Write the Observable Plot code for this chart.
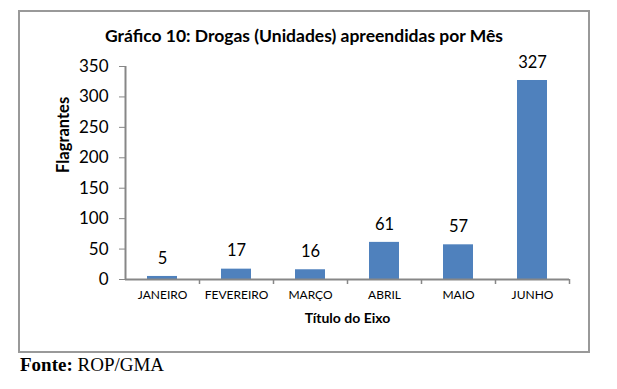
<!DOCTYPE html>
<html><head><meta charset="utf-8">
<script src="https://cdn.jsdelivr.net/npm/d3@7"></script>
<script src="https://cdn.jsdelivr.net/npm/@observablehq/plot@0.6"></script>
<style>
body{margin:0;background:#fff;width:617px;height:389px;position:relative;overflow:hidden;font-family:Lato,sans-serif}
#box{position:absolute;left:18px;top:10px;width:568px;height:339px;border:2px solid #999;}
#title{position:absolute;left:18px;width:572px;top:25px;text-align:center;font:bold 17.5px Lato,sans-serif;line-height:22px;color:#000}
#chart{position:absolute;left:0;top:50px}
#fonte{position:absolute;left:20px;top:354px;font:19px "Liberation Serif",serif;line-height:22px;color:#000}
</style></head>
<body>
<div id="box"></div>
<div id="title"></div>
<div id="chart"></div>
<div id="fonte"></div>
<script>
const titleText = "Gráfico 10: Drogas (Unidades) apreendidas por Mês";
const months = ["JANEIRO","FEVEREIRO","MARÇO","ABRIL","MAIO","JUNHO"];
const values = [5,17,16,61,57,327];
const yTicks = [0,50,100,150,200,250,300,350];
const yLabel = "Flagrantes";
const xLabel = "Título do Eixo";
const sourceLabel = "Fonte:";
const sourceText = " ROP/GMA";

document.getElementById("title").textContent = titleText;
const f = document.getElementById("fonte");
const b = document.createElement("b"); b.textContent = sourceLabel; f.appendChild(b);
f.appendChild(document.createTextNode(sourceText));

const data = months.map((m,i)=>({month:m, value:values[i]}));
const W=617, H=300, ML=125, MR=48;
const step = (W-ML-MR)/months.length;
const axisGray = "#878787";
const plot = Plot.plot({
  width:W, height:H, marginLeft:ML, marginRight:MR, marginTop:16, marginBottom:71,
  style:{fontFamily:"Lato, sans-serif", color:"#000", background:"transparent"},
  x:{domain:months, paddingInner:0.6, paddingOuter:0.3},
  y:{domain:[0,350]},
  marks:[
    Plot.barY(data,{x:"month", y:"value", fill:"#4F81BD"}),
    Plot.ruleY([0],{stroke:axisGray, strokeWidth:2}),
    Plot.ruleX([months[0]],{dx:-step/2, y1:0, y2:350, stroke:axisGray, strokeWidth:2}),
    Plot.ruleX(months,{dx:step/2, y1:0, y2:0, insetTop:5, stroke:axisGray, strokeWidth:1.5}),
    Plot.axisY(yTicks,{tickSize:6, tickPadding:11, fontSize:17, stroke:axisGray, fill:"#000", label:null}),
    Plot.axisX({tickSize:0, tickPadding:11, fontSize:12, fill:"#000", label:null}),
    Plot.text(data,{x:"month", y:"value", text:d=>String(d.value), dy:-18, fontSize:16.5, fill:"#000"}),
    Plot.text([yLabel],{text:d=>d, frameAnchor:"left", dx:-62, rotate:-90, fontSize:16.5, fontWeight:"bold", fill:"#000"}),
    Plot.text([xLabel],{text:d=>d, frameAnchor:"bottom", dy:43, fontSize:14, fontWeight:"bold", fill:"#000"})
  ]
});
document.getElementById("chart").appendChild(plot);
</script>
</body></html>
